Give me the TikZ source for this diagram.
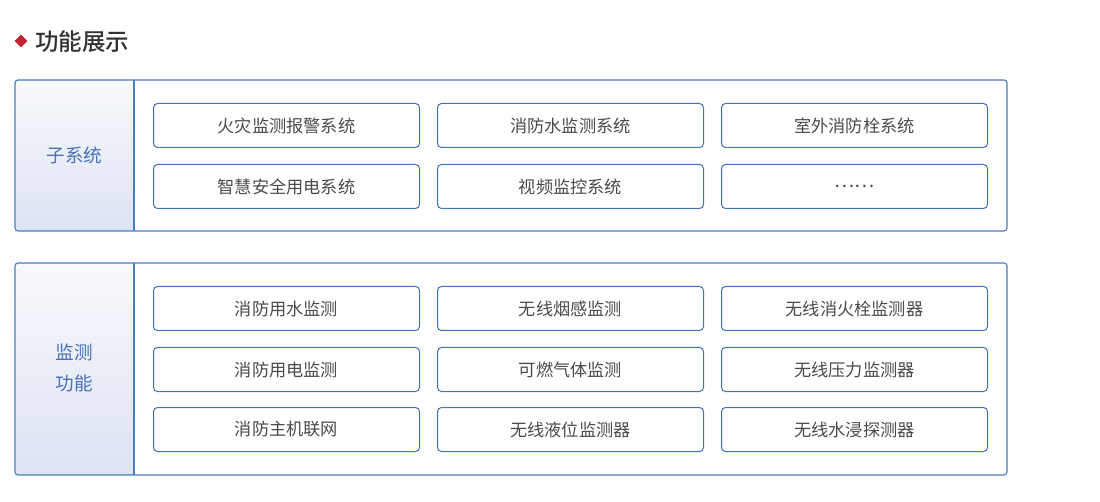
\documentclass[tikz,border=0pt]{standalone}
\usepackage{fontspec}
\newfontfamily\cjk{Noto Sans CJK SC}
\newfontfamily\cjkb{Noto Sans CJK SC Medium}
\definecolor{bordc}{HTML}{4A7CC0}
\definecolor{boxc}{HTML}{3F74BC}
\definecolor{labc}{HTML}{4A72B8}
\definecolor{txtc}{HTML}{4A4A4A}
\definecolor{gtop}{HTML}{F8F9FC}
\definecolor{gbot}{HTML}{DCE3F2}
\definecolor{redc}{HTML}{C42030}
\definecolor{titc}{HTML}{333333}
\begin{document}
\begin{tikzpicture}[x=1pt,y=-1pt,
  panel/.style={draw=bordc,line width=1.1pt,rounded corners=3pt},
  labcol/.style={top color=gtop,bottom color=gbot,draw=none},
  item/.style={draw=boxc,line width=1pt,rounded corners=4pt,minimum width=266pt,minimum height=44pt,inner sep=0pt,font=\cjk\fontsize{17.2}{19}\selectfont,text=txtc,anchor=north west},
  lab/.style={font=\cjk\fontsize{18.6}{31}\selectfont,text=labc,align=center}]
\useasboundingbox (0,0) rectangle (1100,502);
% title
\node[fill=redc,minimum size=9pt,inner sep=0pt,rotate=45] (dia) at (21,41) {};
\node[anchor=west,font=\cjkb\fontsize{23.5}{25}\selectfont,text=titc,inner sep=0pt] (title) at (35,42) {功能展示};
% panel 1
\begin{scope}
\clip[rounded corners=3pt] (15,80) rectangle (1007,231);
\fill[labcol] (15,80) rectangle (134,231);
\end{scope}
\draw[panel] (15,80) rectangle (1007,231);
\draw[bordc,line width=1.1pt] (134,80) -- (134,231);
\node[lab] (l1) at (74.5,155.5) {子系统};
\node[item] (a1) at (153,103) {火灾监测报警系统};
\node[item] (a2) at (437,103) {消防水监测系统};
\node[item] (a3) at (721,103) {室外消防栓系统};
\node[item] (a4) at (153,164) {智慧安全用电系统};
\node[item] (a5) at (437,164) {视频监控系统};
\node[item] (a6) at (721,164) {\fontsize{19}{19}\selectfont ……};
% panel 2
\begin{scope}
\clip[rounded corners=3pt] (15,263) rectangle (1007,475);
\fill[labcol] (15,263) rectangle (134,475);
\end{scope}
\draw[panel] (15,263) rectangle (1007,475);
\draw[bordc,line width=1.1pt] (134,263) -- (134,475);
\node[lab] (l2) at (74.5,367.5) {监测\\功能};
\node[item] (b1) at (153,286) {消防用水监测};
\node[item] (b2) at (437,286) {无线烟感监测};
\node[item] (b3) at (721,286) {无线消火栓监测器};
\node[item] (b4) at (153,347) {消防用电监测};
\node[item] (b5) at (437,347) {可燃气体监测};
\node[item] (b6) at (721,347) {无线压力监测器};
\node[item] (b7) at (153,407) {消防主机联网};
\node[item] (b8) at (437,407) {无线液位监测器};
\node[item] (b9) at (721,407) {无线水浸探测器};
\end{tikzpicture}
\end{document}
